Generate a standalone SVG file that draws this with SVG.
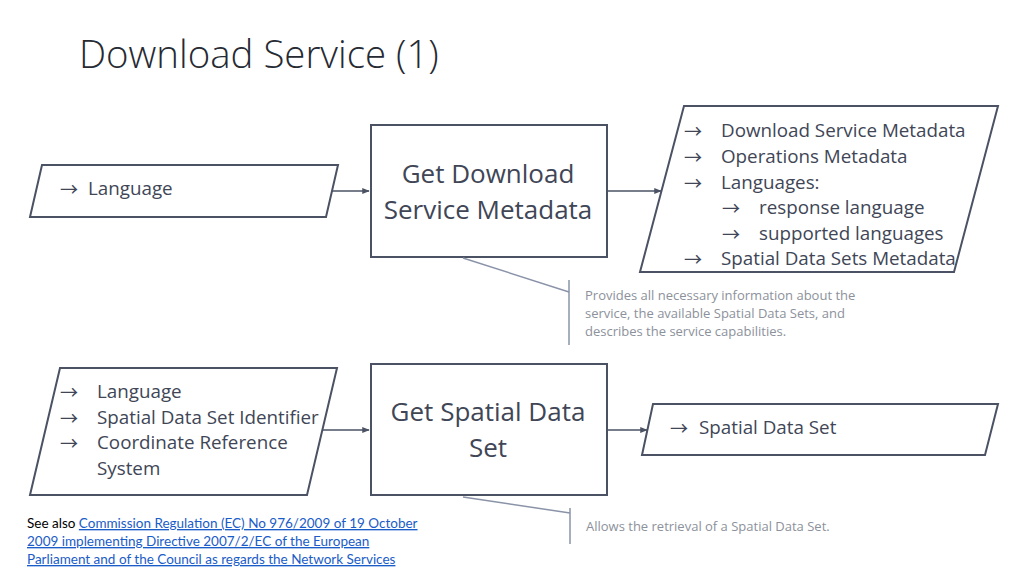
<svg xmlns="http://www.w3.org/2000/svg" width="1024" height="576" viewBox="0 0 1024 576">
<defs>
<marker id="ah" viewBox="0 0 10 10" refX="9" refY="5" markerWidth="5" markerHeight="5" orient="auto"><path d="M0,1 L10,5 L0,9 z" fill="#4a5263"/></marker>
<style>
.shape{fill:#fff;stroke:#4a5263;stroke-width:2}
.t{font-family:"Open Sans","Liberation Sans",sans-serif;fill:#404656}
.a{font-family:"Noto Sans CJK JP","DejaVu Sans",sans-serif;fill:#404656;font-size:18px}
.big{font-size:26px}
.item{font-size:18.8px}
.note{font-family:"Open Sans","Liberation Sans",sans-serif;font-size:13px;fill:#8c919b}
.conn{stroke:#4a5263;stroke-width:1.5;fill:none}
.callout{stroke:#8a93a8;stroke-width:1.5;fill:none}
.foot{font-family:"Lato","Liberation Sans",sans-serif;font-size:13.5px}
</style>
</defs>
<rect width="1024" height="576" fill="#fff"/>
<text x="79" y="68" class="t" style="font-size:38.4px;font-weight:300;fill:#262a33">Download Service (1)</text>

<g id="connectors">
<line class="conn" x1="332" y1="191" x2="369" y2="191" marker-end="url(#ah)"/>
<line class="conn" x1="607" y1="191" x2="661" y2="191" marker-end="url(#ah)"/>
<line class="conn" x1="322" y1="430" x2="369" y2="430" marker-end="url(#ah)"/>
<line class="conn" x1="607" y1="430" x2="647" y2="430" marker-end="url(#ah)"/>
</g>

<g id="in1">
<polygon class="shape" points="42,165 338,165 326,217 30,217"/>
<text class="a" x="60" y="196">→</text><text class="t item" x="88" y="195">Language</text>
</g>

<g id="proc1">
<rect class="shape" x="371" y="125" width="236" height="132"/>
<text class="t big" x="488" y="183" text-anchor="middle">Get Download</text>
<text class="t big" x="488" y="219" text-anchor="middle">Service Metadata</text>
</g>

<g id="out1">
<polygon class="shape" points="684,106 998,106 954,272 640,272"/>
<text class="a" x="684" y="138">→</text><text class="t item" x="721" y="137">Download Service Metadata</text>
<text class="a" x="684" y="164">→</text><text class="t item" x="721" y="163">Operations Metadata</text>
<text class="a" x="684" y="190">→</text><text class="t item" x="721" y="189">Languages:</text>
<text class="a" x="722" y="215">→</text><text class="t item" x="759" y="214">response language</text>
<text class="a" x="722" y="241">→</text><text class="t item" x="759" y="240">supported languages</text>
<text class="a" x="684" y="266">→</text><text class="t item" x="721" y="265">Spatial Data Sets Metadata</text>
</g>

<g id="note1">
<polyline class="callout" points="463,258 569,292"/>
<line class="callout" x1="569" y1="280" x2="569" y2="345"/>
<text class="note" x="585" y="300">Provides all necessary information about the</text>
<text class="note" x="585" y="318">service, the available Spatial Data Sets, and</text>
<text class="note" x="585" y="336">describes the service capabilities.</text>
</g>

<g id="in2">
<polygon class="shape" points="60,368 337,368 307,495 30,495"/>
<text class="a" x="60" y="399">→</text><text class="t item" x="97" y="398">Language</text>
<text class="a" x="60" y="425">→</text><text class="t item" x="97" y="424">Spatial Data Set Identifier</text>
<text class="a" x="60" y="450">→</text><text class="t item" x="97" y="449">Coordinate Reference</text>
<text class="t item" x="97" y="475">System</text>
</g>

<g id="proc2">
<rect class="shape" x="371" y="364" width="236" height="131"/>
<text class="t big" x="488" y="421" text-anchor="middle">Get Spatial Data</text>
<text class="t big" x="488" y="457" text-anchor="middle">Set</text>
</g>

<g id="out2">
<polygon class="shape" points="653,404 998,404 985,455 642,455"/>
<text class="a" x="670" y="435">→</text><text class="t item" x="699" y="434">Spatial Data Set</text>
</g>

<g id="note2">
<polyline class="callout" points="463,497 570,513"/>
<line class="callout" x1="570" y1="508" x2="570" y2="544"/>
<text class="note" x="586" y="531">Allows the retrieval of a Spatial Data Set.</text>
</g>

<g id="footer">
<text class="foot" x="27" y="528" fill="#000">See also <tspan fill="#1a5cc8" text-decoration="underline">Commission Regulation (EC) No 976/2009 of 19 October</tspan></text>
<text class="foot" x="27" y="546" fill="#1a5cc8" text-decoration="underline">2009 implementing Directive 2007/2/EC of the European</text>
<text class="foot" x="27" y="564" fill="#1a5cc8" text-decoration="underline">Parliament and of the Council as regards the Network Services</text>
</g>
</svg>
